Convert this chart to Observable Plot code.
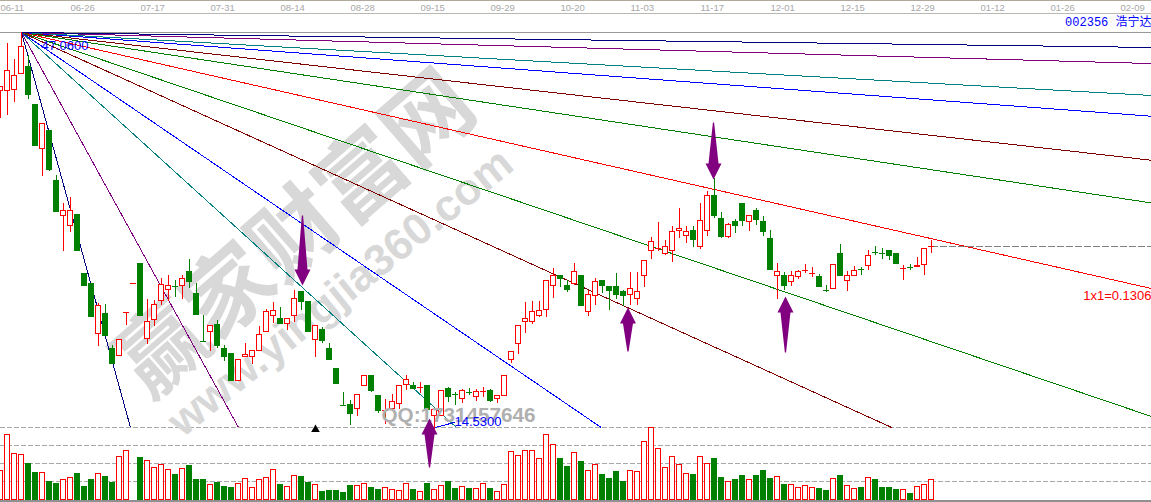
<!DOCTYPE html>
<html>
<head>
<meta charset="utf-8">
<script src="https://cdn.jsdelivr.net/npm/d3@7"></script>
<script src="https://cdn.jsdelivr.net/npm/@observablehq/plot@0.6"></script>
<style>
html,body{margin:0;padding:0;background:#fff;overflow:hidden}
#wrap{position:relative;width:1151px;height:502px}
#wrap svg{position:absolute;left:0;top:0;background:transparent;max-width:none}
</style>
</head>
<body>
<div id="wrap"></div>
<script>
const opens=[42.22,42.22,42.38,43.69,44.19,41.15,37.54,39.02,34.84,32.05,31.15,32.13,27.29,26.47,22.37,24.01,21.14,20.57,24.10,26.47,
28.11,21.96,23.52,25.08,25.98,26.23,26.23,27.38,25.65,21.72,22.46,23.11,21.14,20.73,18.52,20.41,20.41,20.98,22.46,23.85,
23.60,23.19,23.85,25.74,24.92,21.88,22.70,21.14,19.50,16.47,16.55,16.22,18.03,18.85,17.21,16.06,16.22,16.63,18.19,18.11,
17.95,18.11,15.57,15.65,17.86,17.37,17.04,17.54,17.13,17.62,17.70,17.04,17.21,20.24,21.55,23.28,23.28,23.77,24.34,26.23,
27.05,26.31,26.47,27.13,24.10,25.49,26.72,26.15,26.15,25.74,25.57,25.24,27.13,29.10,29.34,28.93,29.10,30.74,30.33,30.82,
29.43,30.82,33.61,31.80,30.25,31.48,33.03,31.48,32.38,31.48,30.16,27.13,27.13,26.56,26.97,27.54,27.29,26.97,25.90,26.06,
28.93,26.64,27.13,27.62,27.95,29.02,28.93,29.10,28.93,27.70,27.79,27.79,28.03,29.51];
const closes=[42.55,43.94,43.45,45.83,41.97,37.79,39.59,35.82,32.30,32.38,32.46,29.18,26.31,23.69,24.59,22.13,19.91,21.88,24.10,26.47,
23.85,23.28,24.75,26.39,26.31,26.22,26.88,26.56,23.93,21.71,23.03,21.39,20.41,18.44,20.24,20.65,20.90,22.29,24.10,24.26,
23.19,23.60,25.24,24.92,22.46,23.03,21.72,20.24,18.27,16.46,15.81,17.37,18.85,17.62,15.98,16.06,16.72,18.11,18.60,17.86,
17.95,16.14,16.14,17.70,17.13,17.36,17.70,17.53,17.54,17.62,16.88,17.29,18.93,20.82,22.95,23.60,24.10,24.26,26.72,27.05,
26.88,25.98,27.38,24.67,25.57,26.56,26.23,25.82,25.57,25.49,26.06,25.74,28.28,29.84,29.34,29.43,30.66,30.98,30.66,30.08,
31.56,33.61,32.05,30.25,31.31,31.23,31.64,31.97,31.72,30.66,27.62,27.38,26.31,27.05,27.38,27.54,27.29,26.15,25.89,28.03,
27.13,27.13,27.46,27.61,28.77,29.01,28.92,28.69,28.11,27.70,27.78,27.95,29.34,29.51];
const highs=[42.55,46.15,44.84,47.06,45.17,41.15,39.59,39.02,35.33,33.03,33.53,32.13,27.29,26.47,24.83,24.75,21.39,21.88,24.10,26.47,
28.11,25.16,25.08,26.88,27.13,26.72,27.13,28.44,26.47,23.85,23.03,23.44,21.39,20.73,20.24,21.55,20.98,22.95,24.34,24.92,
24.51,23.60,25.90,25.74,24.92,23.03,22.87,21.55,19.50,17.54,16.88,17.37,18.85,18.85,17.29,16.96,17.37,18.11,18.93,18.36,
18.36,18.11,16.14,17.70,17.95,17.54,17.78,17.86,17.78,17.95,17.78,17.29,18.93,20.82,22.95,24.92,25.00,25.00,26.72,27.70,
27.05,26.72,28.11,27.13,25.90,26.88,26.72,26.15,27.29,25.90,27.38,27.38,28.28,30.25,31.48,30.00,31.15,32.62,31.15,31.15,
33.03,34.02,35.08,32.30,31.39,31.72,33.03,31.97,32.62,31.97,30.82,28.11,27.38,27.46,27.54,28.03,27.79,27.21,26.31,28.03,
29.67,27.46,27.87,27.79,29.18,29.51,29.34,29.18,28.93,27.95,28.03,28.61,29.34,30.00];
const lows=[40.00,40.25,41.32,43.69,41.56,37.79,35.25,35.66,32.30,29.10,30.66,29.18,26.31,23.69,21.31,22.13,19.91,20.49,23.03,26.47,
23.85,21.47,22.95,24.67,25.00,25.33,25.16,26.06,23.93,21.64,20.90,21.14,20.08,18.44,18.52,20.41,19.83,20.98,22.46,23.19,
23.19,22.62,23.28,24.26,22.46,20.41,21.55,20.16,18.27,16.46,14.83,15.57,18.03,17.54,15.81,14.91,16.22,16.14,17.70,17.86,
17.45,16.14,14.53,15.65,16.72,16.47,16.63,17.29,16.80,17.13,16.72,16.63,17.21,19.91,20.65,22.37,23.11,23.69,23.69,25.24,
26.15,25.74,26.31,24.67,23.77,24.67,25.65,24.26,25.16,24.59,24.67,24.67,26.15,28.44,29.10,28.77,28.20,30.16,29.75,29.43,
29.26,30.33,31.80,30.16,30.16,30.57,31.15,30.74,31.23,30.33,27.62,25.16,25.90,26.23,26.80,27.29,26.97,26.15,25.74,26.06,
27.13,25.82,27.05,27.13,27.54,28.77,28.44,28.36,28.11,26.72,27.54,27.79,27.13,28.93];
const volumes=[29,65,46,45,36,27,27,18,16,20,22,26,13,20,26,23,17,43,49,0,
42,39,32,35,30,25,31,34,20,20,15,17,13,12,16,21,12,20,22,30,
15,13,24,23,17,15,8,9,9,7,14,14,16,12,10,12,10,9,16,10,
8,16,10,14,18,11,13,11,11,16,11,8,15,48,44,49,49,41,65,55,
41,33,47,38,29,35,25,21,28,18,29,28,58,72,51,32,43,35,26,25,
43,36,41,22,18,20,24,20,24,29,21,23,15,15,12,14,12,11,9,21,
24,14,11,12,22,20,12,12,10,10,6,13,15,20];

const dateLabels=["06-11","06-26","07-17","07-31","08-14","08-28","09-15","09-29","10-20","11-03","11-17","12-01","12-15","12-29","01-12","01-26","02-09"];
const dateIndex=[0,10,20,30,40,50,60,70,80,90,100,110,120,130,140,150,160];

const pivotIndex=3, pivotPrice=47.06, lastPrice=29.51, lastIndex=133, endIndex=164.43, paneFloor=14.67;
const fanColors=["#000080","#800080","#008080","#0000ff","#800000","#008000","#ff0000","#008000","#800000","#0000ff","#008080","#800080","#000080"];
const fanEndIndex=[18.57,34,65.14,85.8,127.3,164.43,164.43,164.43,164.43,164.43,164.43,164.43,164.43];
const fanEndPrice=[14.67,14.67,14.67,14.67,14.67,15.57,26.06,33.08,36.58,40.19,41.89,44.51,45.83];

const arrowIndex=[43.14,101.86,61.29,89.64,112.14];
const arrowTip=[26.31,35.00,15.40,24.51,25.41];
const arrowTail=[32.05,39.68,11.39,20.90,20.82];

const RED="#ff0000", GREEN="#008000";
const isUp=i=>closes[i]>=opens[i];
const candles=opens.map((o,i)=>({k:i,o,c:closes[i],h:highs[i],l:lows[i],v:volumes[i],col:isUp(i)?RED:GREEN,fill:isUp(i)?"#fff":GREEN,doji:Math.abs(closes[i]-o)<0.02}));
const fan=fanColors.map((color,i)=>({color,x2:fanEndIndex[i],y2:fanEndPrice[i]}));
const dates=dateLabels.map((label,i)=>({label,k:dateIndex[i]}));

// arrow outlines, in index / price units
const pxX=1/7, pxY=0.082;
const arrowPts=arrowTip.flatMap((tip,i)=>{
  const s=Math.sign(arrowTail[i]-tip), k=arrowIndex[i], neck=tip+s*16*pxY;
  return [[0,tip],[8,neck],[5,neck],[0.6,arrowTail[i]],[-0.6,arrowTail[i]],[-5,neck],[-8,neck]]
    .map(([dx,p])=>({id:i,x:k+dx*pxX,y:p}));
});

const crisp={shapeRendering:"crispEdges"};
const base={width:1151,height:502,marginTop:0,marginRight:0,marginBottom:0,marginLeft:0,
  x:{type:"linear",domain:[0,164.43],range:[0,1151],axis:null},
  color:{type:"identity"},style:{background:"transparent",overflow:"visible"}};

const volumePlot=Plot.plot({...base,
  y:{type:"linear",domain:[0,72],range:[499,427],axis:null},
  marks:[
    Plot.ruleY([18,36,54,72],{stroke:"#a8a8a8",strokeDasharray:"5,2",...crisp}),
    Plot.rect(candles.filter(d=>d.v>0),{x1:d=>d.k-2.5/7,x2:d=>d.k+2.5/7,y1:0,y2:"v",fill:"fill",stroke:"col",...crisp}),
    Plot.ruleY([0],{stroke:"#909090",strokeWidth:3,dy:1.5,...crisp})
  ]});

const mainPlot=Plot.plot({...base,
  y:{type:"linear",domain:[49.68,8.516],range:[0,502],axis:null},
  marks:[
    Plot.text(["赢家财富网"],{x:[42.3],y:[30.41],text:d=>d,rotate:-41,fontSize:88,fontWeight:"bold",fontFamily:"Noto Sans CJK SC",fill:"#d8d8d8"}),
    Plot.text(["www.yingjia360.com"],{x:[48.57],y:[25.74],text:d=>d,rotate:-39,fontSize:44,fontWeight:"bold",fontFamily:"Liberation Sans",fill:"#d8d8d8"}),
    Plot.ruleY([49.64],{stroke:"#b0a898",...crisp}),
    Plot.ruleY([48.61],{stroke:"#b8b8b0",...crisp}),
    Plot.ruleY([47.06],{stroke:"#999999",...crisp}),
    Plot.text(dates,{x:"k",frameAnchor:"top",lineAnchor:"middle",dy:7,text:"label",textAnchor:"start",fontSize:9.5,fontFamily:"Liberation Sans",fill:"#a8a8a8"}),
    Plot.text(["002356 浩宁达"],{frameAnchor:"top-right",lineAnchor:"middle",dy:22,text:d=>d,fontSize:12,fontFamily:"Liberation Mono, Noto Sans CJK SC",fill:"#0000ff"}),
    Plot.link(fan,{x1:pivotIndex,y1:pivotPrice,x2:"x2",y2:"y2",stroke:"color",strokeWidth:1,...crisp}),
    Plot.ruleY([lastPrice],{x1:lastIndex,x2:endIndex,stroke:"#808080",strokeDasharray:"7,2",...crisp}),
    Plot.ruleX(candles,{x:"k",y1:"l",y2:"h",stroke:"col",...crisp}),
    Plot.rect(candles.filter(d=>!d.doji),{x1:d=>d.k-2.5/7,x2:d=>d.k+2.5/7,y1:"o",y2:"c",fill:"fill",stroke:"col",...crisp}),
    Plot.ruleY(candles.filter(d=>d.doji),{y:"o",x1:d=>d.k-3/7,x2:d=>d.k+3/7,stroke:"col",...crisp}),
    Plot.text(["QQ:1731457646"],{x:[65.43],y:[15.65],text:d=>d,fontSize:20.7,fontWeight:"bold",fontFamily:"Liberation Sans",fill:"#b0b0b0"}),
    Plot.link([0],{x1:[62.14],y1:[14.67],x2:[64.86],y2:[15.08],stroke:"#0000ff",...crisp}),
    Plot.text(["47.0600"],{x:[5.86],y:[45.98],text:d=>d,textAnchor:"start",fontSize:13,fontFamily:"Liberation Sans",fill:"#0000ff"}),
    Plot.text(["14.5300"],{x:[64.86],y:[15.16],text:d=>d,textAnchor:"start",fontSize:13,fontFamily:"Liberation Sans",fill:"#0000ff"}),
    Plot.text(["1x1=0.1306"],{frameAnchor:"right",y:[25.49],text:d=>d,fontSize:13,fontFamily:"Liberation Sans",fill:"#ff0000"}),
    Plot.dot([45],{x:d=>d,y:[14.5],symbol:"triangle",r:3.2,fill:"#000"}),
    Plot.line(arrowPts,{x:"x",y:"y",z:"id",curve:"linear-closed",fill:"#800080",stroke:"none"})
  ]});

const wrap=document.getElementById("wrap");
wrap.appendChild(volumePlot);
wrap.appendChild(mainPlot);
</script>
</body>
</html>
